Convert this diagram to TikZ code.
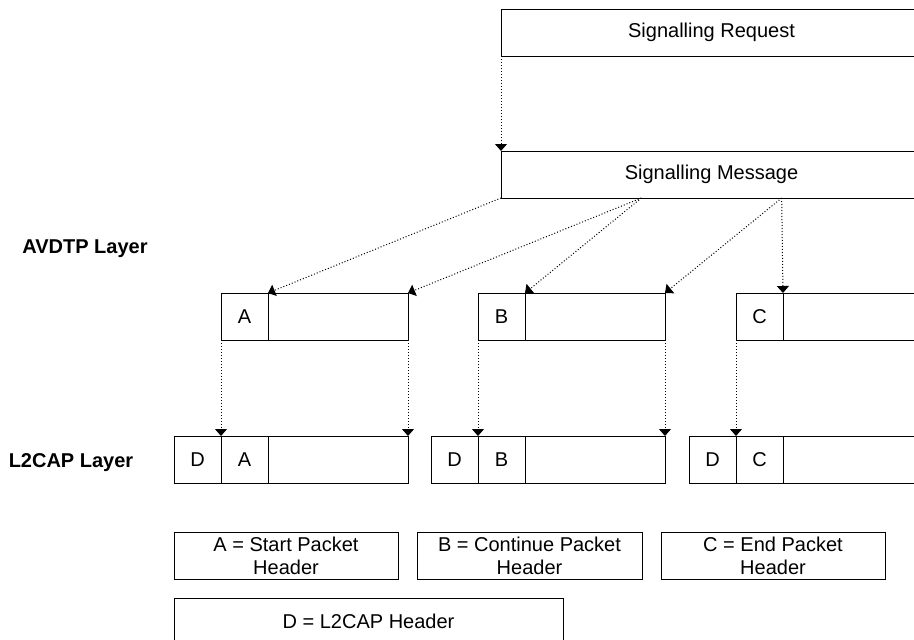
\documentclass[tikz,border=0pt]{standalone}
\usepackage{fontspec}
\setmainfont{Liberation Sans}
\usetikzlibrary{arrows.meta,positioning,calc}

\tikzset{
  cell/.style={draw,line width=1pt,anchor=north west,inner sep=0pt,outer sep=0pt,
    minimum width=47pt,minimum height=47pt},
  payload/.style={cell,minimum width=140pt},
  legend/.style={cell,align=center},
  flow/.style={dotted,line width=1pt,-{Triangle[width=12pt,length=7pt]}},
}

\begin{document}
\begin{tikzpicture}[x=1pt,y=-1pt,font=\fontsize{20}{23}\selectfont]
\useasboundingbox (0,0) rectangle (914,640);
\clip (0,0) rectangle (914,640);

% signalling
\node[cell,minimum width=421pt] (req) at (501,9) {Signalling Request};
\node[cell,minimum width=421pt] (msg) at (501,151) {Signalling Message};

% layer names
\node[font=\fontsize{20}{23}\selectfont\bfseries,anchor=base] (avdtp) at (85,253) {AVDTP Layer};
\node[font=\fontsize{20}{23}\selectfont\bfseries,anchor=base] (l2cap) at (71,467) {L2CAP Layer};

% AVDTP packets
\node[cell] (ha) at (221,293) {A};
\node[payload,right=0pt of ha] (pa) {};
\node[cell] (hb) at (478,293) {B};
\node[payload,right=0pt of hb] (pb) {};
\node[cell] (hc) at (736,293) {C};
\node[payload,right=0pt of hc] (pc) {};

% L2CAP packets
\node[cell] (da) at (174,436) {D};
\node[cell,right=0pt of da] (la) {A};
\node[payload,right=0pt of la] (qa) {};
\node[cell] (db) at (431,436) {D};
\node[cell,right=0pt of db] (lb) {B};
\node[payload,right=0pt of lb] (qb) {};
\node[cell] (dc) at (689,436) {D};
\node[cell,right=0pt of dc] (lc) {C};
\node[payload,right=0pt of lc] (qc) {};

% key
\node[legend,minimum width=224pt] (keya) at (174,532) {A = Start Packet\\Header};
\node[legend,minimum width=225pt] (keyb) at (417,532) {B = Continue Packet\\Header};
\node[legend,minimum width=224pt] (keyc) at (661,532) {C = End Packet\\Header};
\node[legend,minimum width=389pt] (keyd) at (174,598) {D = L2CAP Header};

% arrows
\coordinate (m1) at ($(msg.south west)!1/3!(msg.south east)$);
\coordinate (m2) at ($(msg.south west)!2/3!(msg.south east)$);
\draw[flow] (req.south west) -- (msg.north west);
\draw[flow] (msg.south west) -- (pa.north west);
\draw[flow] (m1) -- (pa.north east);
\draw[flow] (m1) -- (pb.north west);
\draw[flow] (m2) -- (pb.north east);
\draw[flow] (m2) -- (pc.north west);
\foreach \up/\down in {ha.south west/la.north west,pa.south east/qa.north east,
    hb.south west/lb.north west,pb.south east/qb.north east,hc.south west/lc.north west}
  \draw[flow] (\up) -- (\down);
\end{tikzpicture}
\end{document}
